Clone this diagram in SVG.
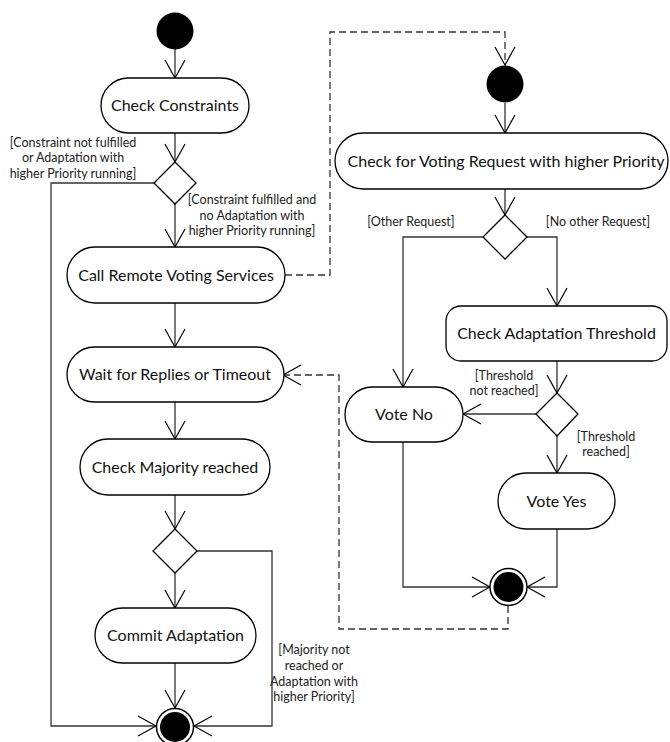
<svg xmlns="http://www.w3.org/2000/svg" width="670" height="742" viewBox="0 0 670 742">
<style>
.n{fill:#fff;stroke:#000;stroke-width:1.3}
.t{font-family:Lato,"Liberation Sans",sans-serif;font-size:16px;fill:#111;text-anchor:middle}
.l{font-family:Lato,"Liberation Sans",sans-serif;font-size:12.5px;fill:#222;text-anchor:middle}
.c{fill:none;stroke:#333;stroke-width:1.3}
.d{stroke-dasharray:7 4}
.s{fill:#000}
</style>
<defs>
<marker id="a" viewBox="-20 -12 22 24" refX="0" refY="0" markerWidth="22" markerHeight="24" markerUnits="userSpaceOnUse" orient="auto">
<path d="M-18,-10 L0,0 L-18,10" fill="none" stroke="#000" stroke-width="1.2"/>
</marker>
</defs>
<g id="connectors">
<path class="c" d="M175,49 V78" marker-end="url(#a)"/>
<path class="c" d="M175,133 V162" marker-end="url(#a)"/>
<path class="c" d="M175,204 V247" marker-end="url(#a)"/>
<path class="c" d="M175,303 V347" marker-end="url(#a)"/>
<path class="c" d="M175,402 V439" marker-end="url(#a)"/>
<path class="c" d="M175,495 V529" marker-end="url(#a)"/>
<path class="c" d="M175,573 V608" marker-end="url(#a)"/>
<path class="c" d="M175,663 V708" marker-end="url(#a)"/>
<path class="c" d="M154,183 H51 V726 H156" marker-end="url(#a)"/>
<path class="c" d="M197,551 H272 V726 H194" marker-end="url(#a)"/>
<path class="c d" d="M285,275 H330 V32 H505 V65" marker-end="url(#a)"/>
<path class="c" d="M505,103 V133" marker-end="url(#a)"/>
<path class="c" d="M505,189 V215" marker-end="url(#a)"/>
<path class="c" d="M483,237 H403 V387" marker-end="url(#a)"/>
<path class="c" d="M527,237 H557 V306" marker-end="url(#a)"/>
<path class="c" d="M557,361 V393" marker-end="url(#a)"/>
<path class="c" d="M536,414 H463" marker-end="url(#a)"/>
<path class="c" d="M557,436 V473" marker-end="url(#a)"/>
<path class="c" d="M557,529 V587 H527" marker-end="url(#a)"/>
<path class="c" d="M403,442 V587 H490" marker-end="url(#a)"/>
<path class="c d" d="M508,606 V629 H339 V375 H283" marker-end="url(#a)"/>
</g>
<g id="start1"><circle class="s" cx="175" cy="31" r="18.5"/></g>
<g id="checkConstraints"><rect class="n" x="101" y="78" width="148" height="55" rx="27.5"/><text class="t" x="175" y="111">Check Constraints</text></g>
<g id="decision1"><polygon class="n" points="175,162 196,183 175,204 154,183" stroke-width="1.8"/></g>
<g id="callRemote"><rect class="n" x="67" y="247" width="218" height="56" rx="28"/><text class="t" x="176" y="280.5">Call Remote Voting Services</text></g>
<g id="waitReplies"><rect class="n" x="67" y="347" width="217" height="55" rx="27.5"/><text class="t" x="175" y="380">Wait for Replies or Timeout</text></g>
<g id="checkMajority"><rect class="n" x="80" y="439" width="190" height="56" rx="28"/><text class="t" x="175" y="472.5">Check Majority reached</text></g>
<g id="decision2"><polygon class="n" points="175,529 197,551 175,573 153,551" stroke-width="1.8"/></g>
<g id="commit"><rect class="n" x="95" y="608" width="161" height="55" rx="27.5"/><text class="t" x="175.5" y="641">Commit Adaptation</text></g>
<g id="end1"><circle cx="175" cy="727" r="18.5" fill="#fff" stroke="#000" stroke-width="1.5"/><circle class="s" cx="175" cy="727" r="15"/></g>
<g id="start2"><circle class="s" cx="505" cy="84" r="18.5"/></g>
<g id="checkVoting"><rect class="n" x="335" y="133" width="333" height="56" rx="28"/><text class="t" x="506" y="166.5">Check for Voting Request with higher Priority</text></g>
<g id="decision3"><polygon class="n" points="505,215 527,237 505,259 483,237" stroke-width="1.8"/></g>
<g id="checkThreshold"><rect class="n" x="446" y="306" width="221" height="55" rx="15" stroke-width="2"/><text class="t" x="556.5" y="339">Check Adaptation Threshold</text></g>
<g id="decision4"><polygon class="n" points="557,393 578,414 557,436 536,414" stroke-width="1.8"/></g>
<g id="voteNo"><rect class="n" x="345" y="387" width="118" height="55" rx="27.5"/><text class="t" x="404" y="420">Vote No</text></g>
<g id="voteYes"><rect class="n" x="498" y="473" width="117" height="56" rx="28"/><text class="t" x="556.5" y="506.5">Vote Yes</text></g>
<g id="end2"><circle cx="508.5" cy="587" r="18.5" fill="#fff" stroke="#000" stroke-width="1.5"/><circle class="s" cx="508.5" cy="587" r="15"/></g>
<g id="labels">
<text class="l" x="73" y="146.5">[Constraint not fulfilled</text>
<text class="l" x="73" y="162">or Adaptation with</text>
<text class="l" x="73" y="178">higher Priority running]</text>
<text class="l" x="252" y="204">[Constraint fulfilled and</text>
<text class="l" x="252" y="219.5">no Adaptation with</text>
<text class="l" x="252" y="235">higher Priority running]</text>
<text class="l" x="314" y="654">[Majority not</text>
<text class="l" x="314" y="670">reached or</text>
<text class="l" x="314" y="686">Adaptation with</text>
<text class="l" x="314" y="701">higher Priority]</text>
<text class="l" x="411" y="226">[Other Request]</text>
<text class="l" x="598" y="226">[No other Request]</text>
<text class="l" x="504" y="380">[Threshold</text>
<text class="l" x="504" y="395">not reached]</text>
<text class="l" x="606" y="441">[Threshold</text>
<text class="l" x="606" y="456">reached]</text>
</g>
</svg>
